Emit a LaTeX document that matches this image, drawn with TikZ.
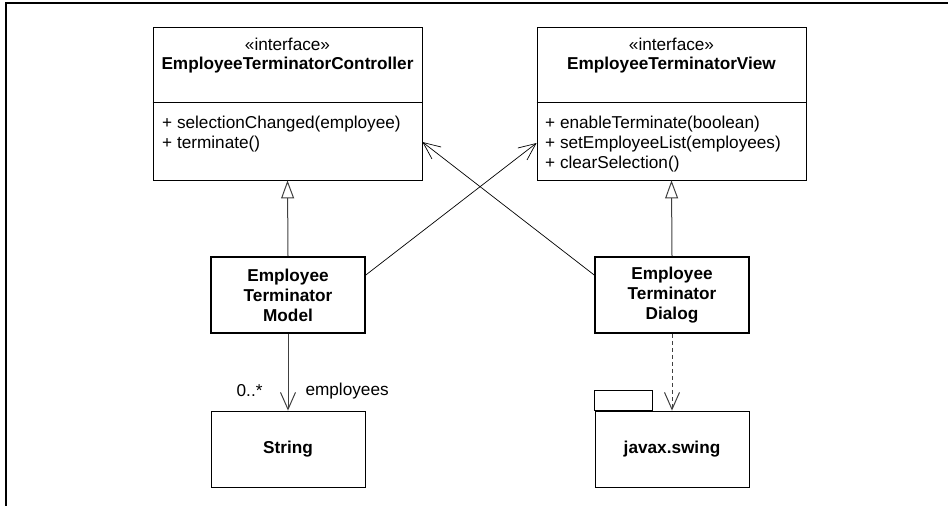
\documentclass[tikz,border=0pt]{standalone}
\usepackage{fontspec}
\setmainfont{Liberation Sans}
\usepackage{tikz}
\usetikzlibrary{arrows.meta}

\begin{document}
\begin{tikzpicture}[
  x=1pt, y=-1pt,
  every node/.style={font=\fontsize{17.2}{20}\selectfont, inner sep=0pt, text=black},
  iface/.style={draw, line width=0.8pt, minimum width=269pt, minimum height=153pt},
  cls/.style={draw, line width=1.6pt, minimum width=154pt, minimum height=76pt,
              align=center, font=\fontsize{17.2}{20}\selectfont\bfseries},
  plainbox/.style={cls, line width=0.8pt},
  inherit/.style={-{Triangle[open, length=18pt, width=13pt, fill=white]}, black!75, line width=1pt},
  assoc/.style={-{Straight Barb[length=17pt,width=15pt]}, line width=0.7pt},
  depend/.style={assoc, black!75, line width=1pt, dash pattern=on 4pt off 3pt},
]
  \useasboundingbox (0,0) rectangle (948,506);
  % frame
  \draw[line width=2pt] (6,506) -- (6,3) -- (948,3);

  % Interfaces
  \node[iface] (ctrl) at (287.5,103.5) {};
  \node[anchor=base] (ctrlst) at (287.5,50) {«interface»};
  \node[anchor=base, font=\fontsize{17.2}{20}\selectfont\bfseries] (ctrlname) at (287.5,69)
    {EmployeeTerminatorController};
  \draw[line width=0.8pt] ([yshift=-76pt]ctrl.north west) -- ([yshift=-76pt]ctrl.north east);
  \node[anchor=base west] (ctrlop1) at (162,128) {+ selectionChanged(employee)};
  \node[anchor=base west] (ctrlop2) at (162,148) {+ terminate()};

  \node[iface] (view) at (671.5,103.5) {};
  \node[anchor=base] (viewst) at (671.5,50) {«interface»};
  \node[anchor=base, font=\fontsize{17.2}{20}\selectfont\bfseries] (viewname) at (671.5,69)
    {EmployeeTerminatorView};
  \draw[line width=0.8pt] ([yshift=-76pt]view.north west) -- ([yshift=-76pt]view.north east);
  \node[anchor=base west] (viewop1) at (545,128) {+ enableTerminate(boolean)};
  \node[anchor=base west] (viewop2) at (545,148) {+ setEmployeeList(employees)};
  \node[anchor=base west] (viewop3) at (545,168) {+ clearSelection()};

  % Classes
  \node[cls] (model) at (288,295) {Employee\\Terminator\\Model};
  \node[cls] (dialog) at (672,295) {Employee\\Terminator\\Dialog};
  \node[plainbox] (string) at (288,449) {String};
  \node[plainbox] (swing) at (672,449) {javax.swing};
  \draw[line width=0.8pt] (swing.north west) rectangle ++(58,-20);

  % Arrows
  \draw[inherit] (model.north) -- (ctrl.south);
  \draw[inherit] (dialog.north) -- (view.south);
  \draw[assoc] ([yshift=20pt]model.east) -- ([yshift=-39.5pt]view.west);
  \draw[assoc] ([yshift=20pt]dialog.west) -- ([yshift=-38.5pt]ctrl.east);
  \draw[assoc, black!75, line width=1pt] (model.south) -- (string.north)
    node[pos=0.74, left=25pt] (mult) {0..*}
    node[pos=0.74, right=17pt] (role) {employees};
  \draw[depend] (dialog.south) -- (swing.north);
\end{tikzpicture}
\end{document}
